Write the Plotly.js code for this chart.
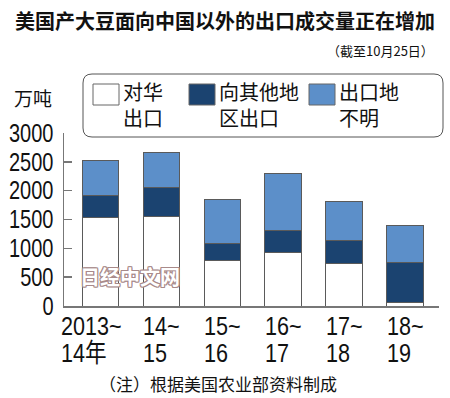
<!DOCTYPE html>
<html><head><meta charset="utf-8">
<script src="https://cdn.plot.ly/plotly-3.0.1.min.js"></script>
<style>body{margin:0;background:#fff}#c{width:450px;height:398px}</style>
</head><body><div id="c"></div>
<script>
// ---- data ----
const catLine1 = ["2013~", "14~", "15~", "16~", "17~", "18~"];
const catLine2 = ["14年", "15", "16", "17", "18", "19"];
const seriesNames = ["对华出口", "向其他地区出口", "出口地不明"];
const nameLine1 = ["对华", "向其他地", "出口地"];
const nameLine2 = ["出口", "区出口", "不明"];
const toChina = [1530, 1550, 790, 930, 740, 60];
const toOthers = [390, 510, 290, 380, 390, 700];
const unknown = [610, 600, 770, 990, 690, 640];
const yTicks = [0, 500, 1000, 1500, 2000, 2500, 3000];

// ---- layout helpers (plot area in pixels) ----
const L = 64, R = 439, T = 133, B = 306;
const px = v => (v - L) / (R - L);
const py = v => (B - v) / (B - T);

const colors = ["#ffffff", "#1b4370", "#5c8fc9"];
const cjk = "Noto Sans CJK SC, sans-serif";
const sans = "Liberation Sans, Arial, Noto Sans CJK SC, sans-serif";

const idx = catLine1.map((_, i) => i);
const vals = [toChina, toOthers, unknown];
const traces = vals.map((v, k) => ({
  type: "bar", x: idx, y: v, name: seriesNames[k], width: 0.6,
  marker: {color: colors[k], line: {color: "#5a5a5a", width: 1}},
  hoverinfo: "skip"
}));

const ann = [];
const condenseIdx = [];
// x labels
idx.forEach(i => {
  const sh = i === 0 ? -42 : -20;
  condenseIdx.push(ann.length);
  ann.push({x: i, y: 0, xref: "x", yref: "y", text: catLine1[i], showarrow: false,
    xanchor: "left", yanchor: "middle", xshift: sh, yshift: -20,
    font: {family: sans, size: 26, color: "#111"}});
  condenseIdx.push(ann.length);
  ann.push({x: i, y: 0, xref: "x", yref: "y", text: catLine2[i], showarrow: false,
    xanchor: "left", yanchor: "middle", xshift: sh, yshift: -47,
    font: {family: sans, size: 26, color: "#111"}});
});
// title pieces
ann.push({x: px(436), y: py(50), xref: "paper", yref: "paper", text: "（截至10月25日）",
  showarrow: false, xanchor: "right", yanchor: "middle", font: {family: cjk, size: 13, color: "#111"}});
ann.push({x: px(12), y: py(97), xref: "paper", yref: "paper", text: "万吨",
  showarrow: false, xanchor: "left", yanchor: "middle", font: {family: cjk, size: 19, color: "#111"}});
ann.push({x: px(218), y: py(383), xref: "paper", yref: "paper", text: "（注）根据美国农业部资料制成",
  showarrow: false, xanchor: "center", yanchor: "middle", font: {family: cjk, size: 17, color: "#111"}});
// watermark
ann.push({x: px(130), y: py(276), xref: "paper", yref: "paper", text: "<b>日经中文网</b>",
  showarrow: false, xanchor: "center", yanchor: "middle",
  font: {family: cjk, size: 20, color: "#ffffff",
    shadow: "1px 1px 0 #a88a8a, -1px -1px 0 #a88a8a, 1px -1px 0 #a88a8a, -1px 1px 0 #a88a8a, 0 1px 0 #a88a8a, 0 -1px 0 #a88a8a, 1px 0 0 #a88a8a, -1px 0 0 #a88a8a"}});

// legend
const shapes = [];
const bx0 = 83, bx1 = 443, by0 = 74, by1 = 137, r = 9;
const path = `M ${px(bx0 + r)},${py(by0)} L ${px(bx1 - r)},${py(by0)} Q ${px(bx1)},${py(by0)} ${px(bx1)},${py(by0 + r)} ` +
  `L ${px(bx1)},${py(by1 - r)} Q ${px(bx1)},${py(by1)} ${px(bx1 - r)},${py(by1)} L ${px(bx0 + r)},${py(by1)} ` +
  `Q ${px(bx0)},${py(by1)} ${px(bx0)},${py(by1 - r)} L ${px(bx0)},${py(by0 + r)} Q ${px(bx0)},${py(by0)} ${px(bx0 + r)},${py(by0)} Z`;
shapes.push({type: "path", xref: "paper", yref: "paper", path: path,
  line: {color: "#555", width: 1}, fillcolor: "#ffffff", layer: "above"});
const sqX = [93, 189, 309];
sqX.forEach((sx, k) => {
  shapes.push({type: "rect", xref: "paper", yref: "paper", x0: px(sx), x1: px(sx + 26), y0: py(84), y1: py(105),
    line: {color: "#666", width: 1}, fillcolor: colors[k], layer: "above"});
  ann.push({x: px(sx + 28), y: py(104), xref: "paper", yref: "paper",
    text: nameLine1[k] + "<br>" + nameLine2[k], showarrow: false, align: "left",
    xanchor: "left", yanchor: "middle", font: {family: cjk, size: 20, color: "#111"}});
});

const layout = {
  width: 450, height: 398,
  margin: {l: L, r: 450 - R, t: T, b: 398 - B, pad: 0},
  paper_bgcolor: "#fff", plot_bgcolor: "#fff",
  barmode: "stack", showlegend: false,
  title: {text: "<b>美国产大豆面向中国以外的出口成交量正在增加</b>", x: 0.5, xref: "container",
    y: 1 - 22 / 398, yref: "container", xanchor: "center", yanchor: "middle",
    font: {family: cjk, size: 20, color: "#111"}},
  xaxis: {range: [-0.6, 5.56], showline: true, linecolor: "#777", linewidth: 1.5,
    showticklabels: false, ticks: "", showgrid: false, zeroline: false, fixedrange: true},
  yaxis: {range: [0, 3000], tickvals: yTicks, ticktext: yTicks.map(String), showline: true,
    linecolor: "#777", linewidth: 1.5, ticks: "inside", ticklen: 8, tickcolor: "#777", tickwidth: 1.5,
    showgrid: false, zeroline: false, ticklabelstandoff: 4,
    tickfont: {family: sans, size: 25, color: "#111"}, fixedrange: true},
  annotations: ann, shapes: shapes
};

// squeeze text horizontally (the reference uses a condensed face)
function squeeze(t, f, keep) {
  const w = t.getComputedTextLength();
  const bb = t.getBBox();
  const nx = keep === "right" ? bb.x + bb.width - w * f : bb.x;
  t.setAttribute("text-anchor", "start");
  t.setAttribute("x", nx);
  t.setAttribute("textLength", w * f);
  t.setAttribute("lengthAdjust", "spacingAndGlyphs");
}

Plotly.newPlot("c", traces, layout, {staticPlot: true, displayModeBar: false}).then(gd => {
  gd.querySelectorAll(".ytick text").forEach(t => squeeze(t, 0.8, "right"));
  gd.querySelectorAll("g.annotation").forEach(g => {
    const i = +g.getAttribute("data-index");
    if (condenseIdx.includes(i)) {
      const t = g.querySelector("text.annotation-text");
      if (t) squeeze(t, 0.83, "left");
    }
  });
});
</script></body></html>
